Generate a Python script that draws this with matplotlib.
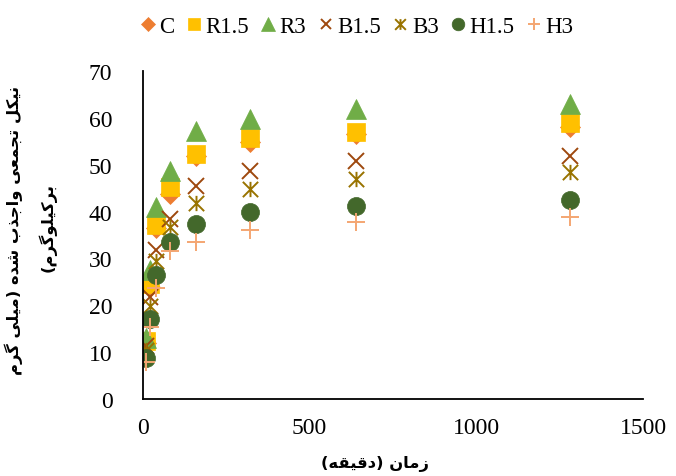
import numpy as np
import matplotlib.pyplot as plt
from matplotlib.path import Path

# data (minutes vs cumulative desorbed Ni, mg/kg)
time_min = [10, 20, 40, 80, 160, 320, 640, 1280]
series_names = ["C", "R1.5", "R3", "B1.5", "B3", "H1.5", "H3"]
C = [12.0, 24.0, 36.5, 43.7, 51.8, 54.8, 56.5, 58.0]
R15 = [12.4, 24.5, 37.1, 45.3, 52.3, 55.6, 57.0, 59.0]
R3 = [13.0, 27.6, 41.0, 48.6, 57.3, 59.8, 61.8, 63.0]
B15 = [11.4, 21.7, 31.9, 38.4, 45.5, 48.7, 50.8, 51.9]
B3 = [10.5, 19.9, 29.5, 36.7, 41.8, 44.8, 47.0, 48.4]
H15 = [8.7, 17.1, 26.5, 33.5, 37.3, 39.9, 41.2, 42.5]
H3 = [7.8, 15.4, 23.7, 31.6, 33.5, 36.0, 37.8, 38.8]

xlabel_fa = "زمان (دقیقه)"
ylabel_fa = ["نیکل تجمعی واجذب شده (میلی گرم", "برکیلوگرم)"]


# minimal persian shaping: (isolated, final, initial, medial); None -> right-joining only
FORMS = {
    "ا": ("\uFE8D", "\uFE8E", None, None),
    "ب": ("\uFE8F", "\uFE90", "\uFE91", "\uFE92"),
    "ت": ("\uFE95", "\uFE96", "\uFE97", "\uFE98"),
    "ج": ("\uFE9D", "\uFE9E", "\uFE9F", "\uFEA0"),
    "د": ("\uFEA9", "\uFEAA", None, None),
    "ذ": ("\uFEAB", "\uFEAC", None, None),
    "ر": ("\uFEAD", "\uFEAE", None, None),
    "ز": ("\uFEAF", "\uFEB0", None, None),
    "ش": ("\uFEB5", "\uFEB6", "\uFEB7", "\uFEB8"),
    "ع": ("\uFEC9", "\uFECA", "\uFECB", "\uFECC"),
    "ق": ("\uFED5", "\uFED6", "\uFED7", "\uFED8"),
    "ل": ("\uFEDD", "\uFEDE", "\uFEDF", "\uFEE0"),
    "م": ("\uFEE1", "\uFEE2", "\uFEE3", "\uFEE4"),
    "ن": ("\uFEE5", "\uFEE6", "\uFEE7", "\uFEE8"),
    "ه": ("\uFEE9", "\uFEEA", "\uFEEB", "\uFEEC"),
    "و": ("\uFEED", "\uFEEE", None, None),
    "ی": ("\uFBFC", "\uFBFD", "\uFBFE", "\uFBFF"),
    "ک": ("\uFB8E", "\uFB8F", "\uFB90", "\uFB91"),
    "گ": ("\uFB92", "\uFB93", "\uFB94", "\uFB95"),
}
MIRROR = {"(": ")", ")": "("}


def fa(text):
    out = []
    for i, ch in enumerate(text):
        if ch not in FORMS:
            out.append(ch)
            continue
        prev = text[i - 1] if i > 0 else ""
        nxt = text[i + 1] if i + 1 < len(text) else ""
        join_prev = prev in FORMS and FORMS[prev][2] is not None
        dual = FORMS[ch][2] is not None
        join_next = dual and nxt in FORMS
        iso, fin, ini, med = FORMS[ch]
        if join_prev and join_next:
            out.append(med)
        elif join_prev:
            out.append(fin)
        elif join_next:
            out.append(ini)
        else:
            out.append(iso)
    return "".join(MIRROR.get(c, c) for c in reversed(out))


# excel style asterisk: x plus a vertical bar
star = Path([(0, -1), (0, 1), (-1, -1), (1, 1), (-1, 1), (1, -1)],
            [Path.MOVETO, Path.LINETO] * 3)

styles = [
    (C, dict(marker="D", color="#ED7D31", ms=10)),
    (R15, dict(marker="s", color="#FFC000", ms=13)),
    (R3, dict(marker="^", color="#70AD47", ms=14)),
    (B15, dict(marker="x", color="#9E480E", ms=11, mew=1.4)),
    (B3, dict(marker=star, color="#997300", ms=11, mew=1.4)),
    (H15, dict(marker="o", color="#43682B", ms=13)),
    (H3, dict(marker="+", color="#F4A672", ms=13, mew=1.4)),
]

plt.rcParams["font.family"] = ["Liberation Serif", "DejaVu Sans"]

fig = plt.figure(figsize=(6.76, 4.77), dpi=100)
ax = fig.add_axes([143 / 676, 1 - 400 / 477, 500 / 676, 328 / 477])

for (vals, st), name in zip(styles, series_names):
    kw = dict(st)
    if kw["marker"] in ("D", "s", "^", "o"):
        kw.setdefault("mew", 0.5)
    ax.plot(time_min, vals, linestyle="none", label=name, **kw)

ax.set_xlim(0, 1500)
ax.set_ylim(0, 70)
ax.set_xticks([0, 500, 1000, 1500])
ax.set_yticks(range(0, 71, 10))
for s in ["top", "right"]:
    ax.spines[s].set_visible(False)
for s in ["left", "bottom"]:
    ax.spines[s].set_linewidth(1.3)
ax.tick_params(axis="both", length=0, labelsize=17)
ax.tick_params(axis="y", pad=22)
ax.tick_params(axis="x", pad=13)

lbl = dict(fontsize=11.8, fontweight="bold", family=["DejaVu Sans"])
fig.text(375 / 676, 1 - 464 / 477, fa(xlabel_fa), ha="center", va="center", **lbl)
fig.text(14 / 676, 1 - 230 / 477, fa(ylabel_fa[0]), ha="center", va="center",
         rotation=90, **lbl)
fig.text(47 / 676, 1 - 228 / 477, fa(ylabel_fa[1]), ha="center", va="center",
         rotation=90, **lbl)

fig.legend(loc="center", bbox_to_anchor=(356 / 676, 1 - 27 / 477), ncol=7,
           frameon=False, fontsize=16.5, markerscale=0.7, handlelength=0.8,
           handletextpad=0.1, columnspacing=0.45)

fig.savefig("out.png", dpi=100)
